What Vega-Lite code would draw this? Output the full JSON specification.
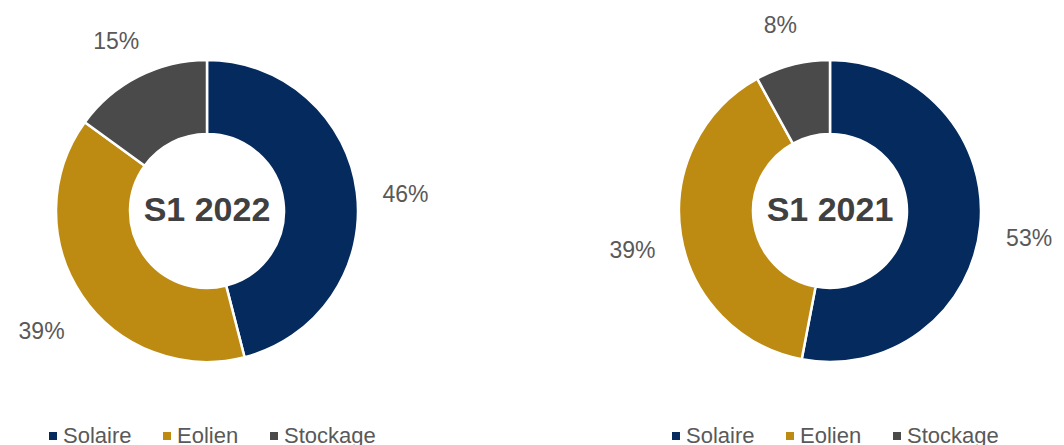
{
  "$schema": "https://vega.github.io/schema/vega-lite/v6.json",
  "padding": 0,
  "bounds": "flush",
  "background": "white",
  "config": {
    "font": "Liberation Sans",
    "view": {"stroke": null},
    "concat": {"spacing": 209}
  },
  "datasets": {
    "parts": [
      {"periode": "S1 2022", "source": "Solaire", "ordre": 1, "valeur": 0.46},
      {"periode": "S1 2022", "source": "Eolien", "ordre": 2, "valeur": 0.39},
      {"periode": "S1 2022", "source": "Stockage", "ordre": 3, "valeur": 0.15},
      {"periode": "S1 2021", "source": "Solaire", "ordre": 1, "valeur": 0.53},
      {"periode": "S1 2021", "source": "Eolien", "ordre": 2, "valeur": 0.39},
      {"periode": "S1 2021", "source": "Stockage", "ordre": 3, "valeur": 0.08}
    ]
  },
  "resolve": {"legend": {"color": "independent"}, "scale": {"color": "independent"}},
  "hconcat": [
    {
      "width": 414,
      "height": 422,
      "layer": [
        {
          "data": {"name": "parts"},
          "transform": [{"filter": "datum.periode === 'S1 2022'"}],
          "mark": {"type": "arc", "outerRadius": 151, "innerRadius": 77, "stroke": "white", "strokeWidth": 2.5},
          "encoding": {
            "theta": {"field": "valeur", "type": "quantitative", "stack": true},
            "order": {"field": "ordre", "type": "quantitative"},
            "color": {
              "field": "source", "type": "nominal",
              "scale": {"domain": ["Solaire", "Eolien", "Stockage"], "range": ["#042A5E", "#BE8B12", "#4A4A4A"]},
              "legend": {
                "orient": "none", "legendX": 42, "legendY": 425, "direction": "horizontal",
                "title": null, "symbolType": "square", "symbolSize": 64, "symbolStrokeWidth": 0,
                "labelFontSize": 22, "labelColor": "#595959", "labelOffset": -1, "columnPadding": 24, "padding": 0
              }
            }
          }
        },
        {
          "data": {"name": "parts"},
          "transform": [{"filter": "datum.periode === 'S1 2022'"}],
          "mark": {"type": "text", "radius": 200, "dy": 9, "fontSize": 23, "color": "#595959"},
          "encoding": {
            "theta": {"field": "valeur", "type": "quantitative", "stack": true},
            "order": {"field": "ordre", "type": "quantitative"},
            "text": {"field": "valeur", "type": "quantitative", "format": ".0%"}
          }
        },
        {
          "data": {"values": [{"titre": "S1 2022"}]},
          "mark": {"type": "text", "fontSize": 34, "fontWeight": "bold", "color": "#404040"},
          "encoding": {"text": {"field": "titre"}}
        }
      ]
    },
    {
      "width": 414,
      "height": 422,
      "layer": [
        {
          "data": {"name": "parts"},
          "transform": [{"filter": "datum.periode === 'S1 2021'"}],
          "mark": {"type": "arc", "outerRadius": 151, "innerRadius": 77, "stroke": "white", "strokeWidth": 2.5},
          "encoding": {
            "theta": {"field": "valeur", "type": "quantitative", "stack": true},
            "order": {"field": "ordre", "type": "quantitative"},
            "color": {
              "field": "source", "type": "nominal",
              "scale": {"domain": ["Solaire", "Eolien", "Stockage"], "range": ["#042A5E", "#BE8B12", "#4A4A4A"]},
              "legend": {
                "orient": "none", "legendX": 42, "legendY": 425, "direction": "horizontal",
                "title": null, "symbolType": "square", "symbolSize": 64, "symbolStrokeWidth": 0,
                "labelFontSize": 22, "labelColor": "#595959", "labelOffset": -1, "columnPadding": 24, "padding": 0
              }
            }
          }
        },
        {
          "data": {"name": "parts"},
          "transform": [{"filter": "datum.periode === 'S1 2021'"}],
          "mark": {"type": "text", "radius": 200, "dy": 9, "fontSize": 23, "color": "#595959"},
          "encoding": {
            "theta": {"field": "valeur", "type": "quantitative", "stack": true},
            "order": {"field": "ordre", "type": "quantitative"},
            "text": {"field": "valeur", "type": "quantitative", "format": ".0%"}
          }
        },
        {
          "data": {"values": [{"titre": "S1 2021"}]},
          "mark": {"type": "text", "fontSize": 34, "fontWeight": "bold", "color": "#404040"},
          "encoding": {"text": {"field": "titre"}}
        }
      ]
    }
  ]
}
